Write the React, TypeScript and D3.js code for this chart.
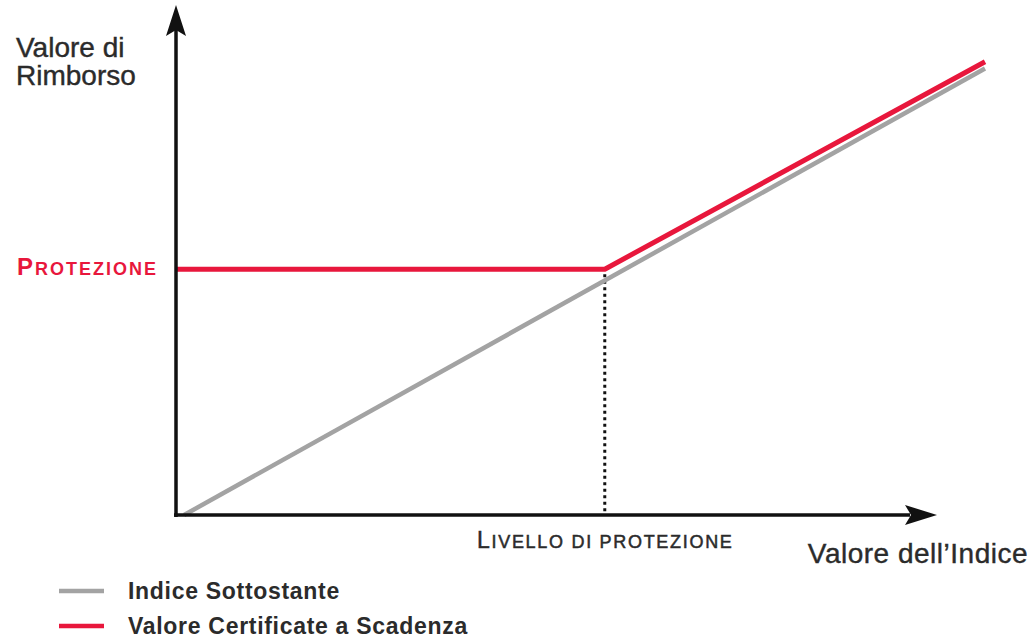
import * as d3 from "d3";

// index level vs payoff (arbitrary units)
const underlyingX = [1, 100];
const underlyingY = [0, 99];
const certificateX = [0, 53, 100];
const certificateY = [54.5, 54.5, 100.5];
const protectionLevel = 53;
const protectionValue = 54.5;

const legendLabels = ["Indice Sottostante", "Valore Certificate a Scadenza"];
const legendColors = ["#a3a3a3", "#e8173c"];

const W = 1035;
const H = 639;
const RED = "#e8173c";
const GREY = "#a3a3a3";
const INK = "#2b2b2b";
const FONT = "'Liberation Sans', Arial, Helvetica, sans-serif";

export default function App() {
  const x = d3.scaleLinear().domain([0, 100]).range([176, 985]);
  const y = d3.scaleLinear().domain([0, 100]).range([515, 64]);

  const line = d3
    .line<[number, number]>()
    .x((d) => x(d[0]))
    .y((d) => y(d[1]));

  const grey = underlyingX.map((v, i) => [v, underlyingY[i]] as [number, number]);
  const red = certificateX.map((v, i) => [v, certificateY[i]] as [number, number]);

  const x0 = x(0);
  const y0 = y(0);

  return (
    <svg
      width={W}
      height={H}
      viewBox={`0 0 ${W} ${H}`}
      style={{ position: "absolute", left: 0, top: 0, background: "#fff" }}
      fontFamily={FONT}
    >
      {/* dotted drop line at protection level */}
      <line
        x1={x(protectionLevel)}
        x2={x(protectionLevel)}
        y1={y(protectionValue) + 5}
        y2={y0}
        stroke="#111"
        strokeWidth={3}
        strokeDasharray="3,3.5"
      />

      {/* series */}
      <path d={line(grey) ?? ""} fill="none" stroke={GREY} strokeWidth={4.5} />
      <path d={line(red) ?? ""} fill="none" stroke={RED} strokeWidth={5} strokeLinejoin="round" />

      {/* axes */}
      <line x1={x0} x2={x0} y1={y0 + 2} y2={28} stroke="#111" strokeWidth={3.5} />
      <polygon points={`${x0},5 ${x0 - 10},36 ${x0},30 ${x0 + 10},36`} fill="#111" />
      <line x1={x0 - 2} x2={910} y1={y0} y2={y0} stroke="#111" strokeWidth={3.5} />
      <polygon points={`937,${y0} 905,${y0 - 10} 911,${y0} 905,${y0 + 10}`} fill="#111" />

      {/* axis titles */}
      <g fill={INK} stroke={INK} strokeWidth={0.4} fontSize={28}>
        <text x={16} y={57}>Valore di</text>
        <text x={16} y={85}>Rimborso</text>
        <text x={1028} y={563} textAnchor="end" letterSpacing={0.5}>
          Valore dell’Indice
        </text>
      </g>

      {/* protection labels */}
      <text x={17} y={275} fill={RED} fontWeight="bold" letterSpacing={2}>
        <tspan fontSize={24}>P</tspan>
        <tspan fontSize={18}>ROTEZIONE</tspan>
      </text>
      <text x={477} y={548} fill={INK} stroke={INK} strokeWidth={0.5} letterSpacing={1.7}>
        <tspan fontSize={23}>L</tspan>
        <tspan fontSize={18}>IVELLO DI PROTEZIONE</tspan>
      </text>

      {/* legend */}
      {legendLabels.map((label, i) => (
        <g key={label} transform={`translate(0, ${591 + i * 35})`}>
          <line x1={59} x2={104} y1={0} y2={0} stroke={legendColors[i]} strokeWidth={4.5} />
          <text x={128} y={8} fontSize={23} fontWeight="bold" fill={INK} letterSpacing={0.7}>
            {label}
          </text>
        </g>
      ))}
    </svg>
  );
}
